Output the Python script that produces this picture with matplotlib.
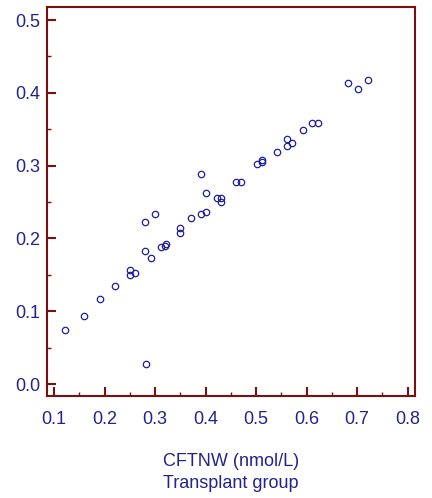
import matplotlib
matplotlib.use('Agg')
import matplotlib.pyplot as plt
from matplotlib.ticker import MultipleLocator, FormatStrFormatter

plt.rcParams['font.family'] = ['Liberation Sans Narrow', 'Liberation Sans', 'DejaVu Sans']

# CFTNW (nmol/L) vs measured value, transplant group
x = [0.121, 0.160, 0.191, 0.221, 0.251, 0.251, 0.261, 0.281, 0.292, 0.281,
     0.300, 0.282, 0.311, 0.320, 0.321, 0.350, 0.350, 0.371, 0.390, 0.401,
     0.390, 0.401, 0.422, 0.431, 0.431, 0.460, 0.470, 0.502, 0.511, 0.512,
     0.541, 0.562, 0.562, 0.571, 0.592, 0.611, 0.622, 0.682, 0.702, 0.722]
y = [0.074, 0.094, 0.117, 0.135, 0.156, 0.150, 0.153, 0.183, 0.173, 0.223,
     0.233, 0.027, 0.188, 0.190, 0.192, 0.215, 0.208, 0.228, 0.234, 0.236,
     0.289, 0.263, 0.256, 0.255, 0.250, 0.277, 0.278, 0.302, 0.308, 0.305,
     0.319, 0.337, 0.327, 0.331, 0.349, 0.358, 0.358, 0.413, 0.405, 0.417]

navy = '#23238c'
maroon = '#7a1010'

fig = plt.figure(figsize=(4.32, 4.98), dpi=100)
ax = fig.add_axes([0.1088, 0.2048, 0.8518, 0.7812])

ax.plot(x, y, 'o', mfc='none', mec='#1f1f9a', ms=4.6, mew=0.9)

ax.set_xlim(0.086, 0.8145)
ax.set_ylim(-0.0165, 0.518)

ax.xaxis.set_major_locator(MultipleLocator(0.1))
ax.xaxis.set_minor_locator(MultipleLocator(0.05))
ax.yaxis.set_major_locator(MultipleLocator(0.1))
ax.yaxis.set_minor_locator(MultipleLocator(0.05))
ax.xaxis.set_major_formatter(FormatStrFormatter('%.1f'))
ax.yaxis.set_major_formatter(FormatStrFormatter('%.1f'))

for s in ax.spines.values():
    s.set_color(maroon)
    s.set_linewidth(1.5)

ax.tick_params(which='major', direction='in', length=6.5, width=1.5, color=maroon,
               labelcolor=navy, labelsize=13)
ax.tick_params(which='minor', direction='in', length=3, width=1.0, color=maroon)
ax.tick_params(axis='x', which='major', pad=11)
ax.tick_params(axis='y', which='major', pad=5)

ax.set_xlabel('CFTNW (nmol/L)\nTransplant group', color=navy, fontsize=13,
              labelpad=18, linespacing=1.4)

fig.savefig('out.png', dpi=100)
